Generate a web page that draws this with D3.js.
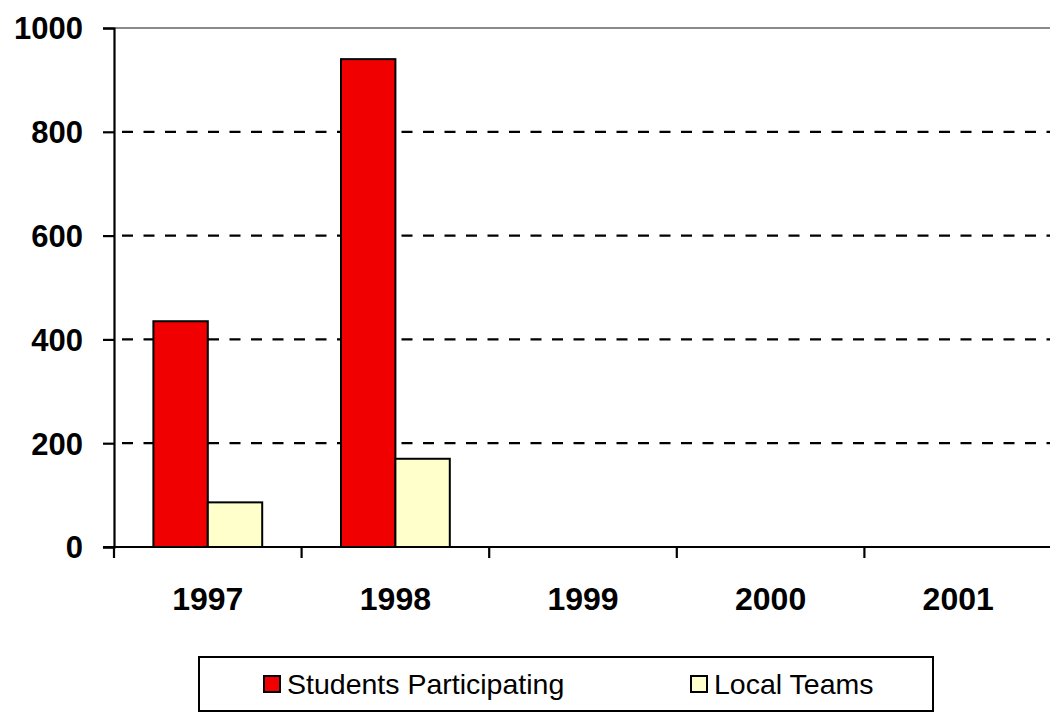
<!DOCTYPE html>
<html>
<head>
<meta charset="utf-8">
<script src="https://cdn.jsdelivr.net/npm/d3@7"></script>
<style>
  html, body { margin: 0; padding: 0; background: #fff; }
  svg { display: block; }
</style>
</head>
<body>
<svg id="chart" width="1050" height="713"></svg>
<script>
const years = ["1997", "1998", "1999", "2000", "2001"];
const seriesNames = ["Students Participating", "Local Teams"];
const studentsParticipating = [435, 940, null, null, null];
const localTeams = [86, 170, null, null, null];
const seriesColors = ["#f00000", "#ffffcc"];
const yTicks = [0, 200, 400, 600, 800, 1000];

(function () {
const svg = d3.select("#chart");
const mLeft = 114, mRight = 1052, mTop = 28, mBottom = 547;

const x0 = d3.scaleBand().domain(years).range([mLeft, mRight]).padding(0);
const step = x0.step();
const x1 = d3.scaleBand().domain(seriesNames).range([step * 0.21, step * 0.79]).padding(0);
const y = d3.scaleLinear().domain([0, 1000]).range([mBottom, mTop]);

// gridlines
const grid = svg.append("g");
yTicks.filter(v => v > 0 && v < 1000).forEach(v => {
  grid.append("line")
    .attr("x1", mLeft).attr("x2", 1050)
    .attr("y1", y(v)).attr("y2", y(v))
    .attr("stroke", "#000").attr("stroke-width", 2.2)
    .attr("stroke-dasharray", "11,10.5")
    .attr("stroke-dashoffset", -8);
});
grid.append("line")
  .attr("x1", mLeft).attr("x2", 1050)
  .attr("y1", y(1000)).attr("y2", y(1000))
  .attr("stroke", "#8a8a8a").attr("stroke-width", 2);

// bars
const data = [studentsParticipating, localTeams];
const barsG = svg.append("g");
years.forEach((yr, i) => {
  seriesNames.forEach((s, j) => {
    const v = data[j][i];
    if (v == null) return;
    barsG.append("rect")
      .attr("x", x0(yr) + x1(s))
      .attr("y", y(v))
      .attr("width", x1.bandwidth())
      .attr("height", y(0) - y(v))
      .attr("fill", seriesColors[j])
      .attr("stroke", "#000")
      .attr("stroke-width", 2);
  });
});

const labelFont = "Liberation Sans, Arial, sans-serif";

// y axis
const yAxis = d3.axisLeft(y).tickValues(yTicks).tickFormat(d3.format("d")).tickSize(11).tickPadding(20);
const yg = svg.append("g").attr("transform", `translate(${mLeft},0)`).call(yAxis);
yg.select(".domain").attr("stroke", "#000").attr("stroke-width", 2.2);
yg.selectAll(".tick line").attr("stroke", "#000").attr("stroke-width", 2.2);
yg.selectAll(".tick text")
  .attr("font-family", labelFont)
  .attr("font-weight", "bold").attr("font-size", 31).attr("fill", "#000")
  .attr("dy", "0.35em").attr("x", -31);

// x axis
const xg = svg.append("g").attr("transform", `translate(0,${mBottom})`);
xg.append("line")
  .attr("x1", mLeft - 11).attr("x2", 1050)
  .attr("y1", 0).attr("y2", 0)
  .attr("stroke", "#000").attr("stroke-width", 2.2);
const tickPositions = years.map(yr => x0(yr));
xg.selectAll(".xtick").data(tickPositions).enter().append("line")
  .attr("x1", d => d).attr("x2", d => d)
  .attr("y1", 0).attr("y2", 11)
  .attr("stroke", "#000").attr("stroke-width", 2.2);
xg.selectAll(".xlabel").data(years).enter().append("text")
  .attr("x", d => x0(d) + x0.bandwidth() / 2)
  .attr("y", 63)
  .attr("text-anchor", "middle")
  .attr("font-family", labelFont)
  .attr("font-weight", "bold").attr("font-size", 32).attr("fill", "#000")
  .text(d => d);

// legend
const lg = svg.append("g");
lg.append("rect").attr("x", 199).attr("y", 657).attr("width", 734).attr("height", 54)
  .attr("fill", "#fff").attr("stroke", "#000").attr("stroke-width", 2);
const legendX = [264, 691];
seriesNames.forEach((s, j) => {
  lg.append("rect").attr("x", legendX[j]).attr("y", 676).attr("width", 16).attr("height", 16)
    .attr("fill", seriesColors[j]).attr("stroke", "#000").attr("stroke-width", 2);
  lg.append("text").attr("x", legendX[j] + 23).attr("y", 694)
    .attr("font-family", labelFont)
    .attr("font-size", 28.5).attr("fill", "#000")
    .text(s);
});
})();
</script>
</body>
</html>
